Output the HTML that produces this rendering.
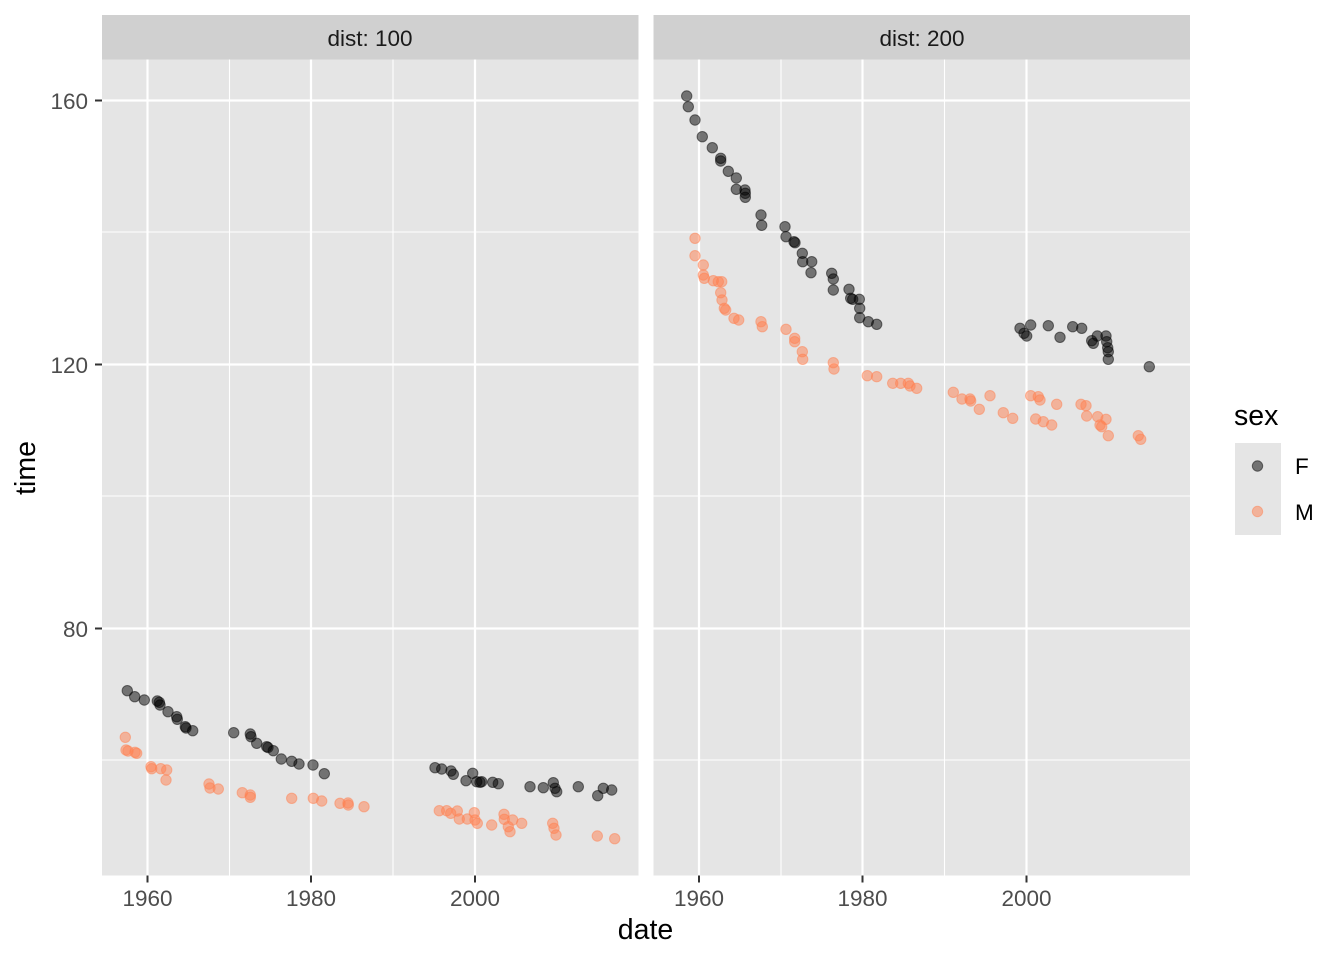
<!DOCTYPE html>
<html><head><meta charset="utf-8"><style>
html,body{margin:0;padding:0;background:#fff;}
svg{display:block;font-family:"Liberation Sans",Arial,sans-serif;}
</style></head><body>
<svg width="1344" height="960" viewBox="0 0 1344 960" xmlns="http://www.w3.org/2000/svg">
<rect width="1344" height="960" fill="#fff"/>
<!-- Left panel -->
<rect x="102" y="59.5" width="536.5" height="816" fill="#E5E5E5"/>
<g stroke="#fff" stroke-width="1.1">
<line x1="102" x2="638.5" y1="232" y2="232"/>
<line x1="102" x2="638.5" y1="496" y2="496"/>
<line x1="102" x2="638.5" y1="760" y2="760"/>
<line x1="229.5" x2="229.5" y1="59.5" y2="875.5"/>
<line x1="393" x2="393" y1="59.5" y2="875.5"/>
</g>
<g stroke="#fff" stroke-width="2.2">
<line x1="102" x2="638.5" y1="100.5" y2="100.5"/>
<line x1="102" x2="638.5" y1="364.5" y2="364.5"/>
<line x1="102" x2="638.5" y1="628.5" y2="628.5"/>
<line x1="147.5" x2="147.5" y1="59.5" y2="875.5"/>
<line x1="311" x2="311" y1="59.5" y2="875.5"/>
<line x1="475" x2="475" y1="59.5" y2="875.5"/>
</g>
<!-- Right panel -->
<rect x="653.5" y="59.5" width="536.5" height="816" fill="#E5E5E5"/>
<g stroke="#fff" stroke-width="1.1">
<line x1="653.5" x2="1190" y1="232" y2="232"/>
<line x1="653.5" x2="1190" y1="496" y2="496"/>
<line x1="653.5" x2="1190" y1="760" y2="760"/>
<line x1="781" x2="781" y1="59.5" y2="875.5"/>
<line x1="944.5" x2="944.5" y1="59.5" y2="875.5"/>
</g>
<g stroke="#fff" stroke-width="2.2">
<line x1="653.5" x2="1190" y1="100.5" y2="100.5"/>
<line x1="653.5" x2="1190" y1="364.5" y2="364.5"/>
<line x1="653.5" x2="1190" y1="628.5" y2="628.5"/>
<line x1="699" x2="699" y1="59.5" y2="875.5"/>
<line x1="862.5" x2="862.5" y1="59.5" y2="875.5"/>
<line x1="1026.5" x2="1026.5" y1="59.5" y2="875.5"/>
</g>
<!-- Strips -->
<rect x="102" y="15" width="536.5" height="44.5" fill="#D0D0D0"/>
<rect x="653.5" y="15" width="536.5" height="44.5" fill="#D0D0D0"/>
<text x="370" y="46" font-size="22.5" fill="#1A1A1A" text-anchor="middle">dist: 100</text>
<text x="922" y="46" font-size="22.5" fill="#1A1A1A" text-anchor="middle">dist: 200</text>

<!-- M points -->
<g fill="rgba(255,127,80,0.5)" stroke="rgba(255,127,80,0.5)" stroke-width="1">
<circle cx="125.3" cy="737.3" r="5.2"/><circle cx="126" cy="750" r="5.2"/><circle cx="128" cy="751" r="5.2"/><circle cx="135" cy="752.3" r="5.2"/><circle cx="136.7" cy="753.3" r="5.2"/>
<circle cx="151" cy="766.7" r="5.2"/><circle cx="151.7" cy="768.7" r="5.2"/><circle cx="160.7" cy="768.7" r="5.2"/><circle cx="166.7" cy="770" r="5.2"/><circle cx="166" cy="780" r="5.2"/>
<circle cx="209" cy="784" r="5.2"/><circle cx="210" cy="788" r="5.2"/><circle cx="218.3" cy="789" r="5.2"/><circle cx="242.3" cy="792.7" r="5.2"/><circle cx="250.3" cy="795" r="5.2"/><circle cx="250.3" cy="797.3" r="5.2"/>
<circle cx="291.7" cy="798.3" r="5.2"/><circle cx="313.3" cy="798.3" r="5.2"/><circle cx="321.7" cy="801" r="5.2"/><circle cx="340" cy="803.3" r="5.2"/><circle cx="348" cy="803" r="5.2"/><circle cx="348.3" cy="805" r="5.2"/><circle cx="364" cy="806.7" r="5.2"/>
<circle cx="439.3" cy="810.7" r="5.2"/><circle cx="446.7" cy="810.7" r="5.2"/><circle cx="450.7" cy="813.3" r="5.2"/><circle cx="457.3" cy="811" r="5.2"/><circle cx="459.3" cy="819" r="5.2"/><circle cx="467.3" cy="819" r="5.2"/><circle cx="474.3" cy="812.7" r="5.2"/><circle cx="475" cy="820" r="5.2"/><circle cx="477.3" cy="823.3" r="5.2"/><circle cx="491.7" cy="825" r="5.2"/>
<circle cx="504" cy="814.3" r="5.2"/><circle cx="504.3" cy="819.3" r="5.2"/><circle cx="512.7" cy="820" r="5.2"/><circle cx="508.3" cy="826.7" r="5.2"/><circle cx="510" cy="831.7" r="5.2"/><circle cx="521.7" cy="823.3" r="5.2"/>
<circle cx="552.7" cy="823.3" r="5.2"/><circle cx="554" cy="828.3" r="5.2"/><circle cx="556" cy="835" r="5.2"/><circle cx="597.3" cy="836" r="5.2"/><circle cx="614.7" cy="838.7" r="5.2"/>
<!-- right -->
<circle cx="695" cy="238.3" r="5.2"/><circle cx="695" cy="255.7" r="5.2"/><circle cx="703.3" cy="265" r="5.2"/><circle cx="703.3" cy="275" r="5.2"/><circle cx="704.3" cy="278.3" r="5.2"/><circle cx="713.3" cy="280.7" r="5.2"/><circle cx="718.3" cy="281.7" r="5.2"/><circle cx="721.7" cy="281.7" r="5.2"/><circle cx="720.7" cy="292.7" r="5.2"/><circle cx="722" cy="300" r="5.2"/><circle cx="724.3" cy="308.3" r="5.2"/><circle cx="725.7" cy="310" r="5.2"/>
<circle cx="734" cy="318.3" r="5.2"/><circle cx="738.7" cy="320" r="5.2"/><circle cx="761" cy="321.7" r="5.2"/><circle cx="762.3" cy="326.7" r="5.2"/><circle cx="786" cy="329.3" r="5.2"/><circle cx="794.7" cy="338.3" r="5.2"/><circle cx="794.7" cy="341.7" r="5.2"/><circle cx="802.3" cy="351.7" r="5.2"/><circle cx="802.7" cy="359.3" r="5.2"/>
<circle cx="833.3" cy="362.7" r="5.2"/><circle cx="834" cy="369" r="5.2"/><circle cx="867.3" cy="375.7" r="5.2"/><circle cx="876.7" cy="376.7" r="5.2"/><circle cx="892.7" cy="383.3" r="5.2"/><circle cx="900.7" cy="383.3" r="5.2"/><circle cx="908.3" cy="383.3" r="5.2"/><circle cx="910" cy="386" r="5.2"/><circle cx="916.7" cy="388.3" r="5.2"/>
<circle cx="953.3" cy="392.3" r="5.2"/><circle cx="962" cy="399" r="5.2"/><circle cx="970" cy="399" r="5.2"/><circle cx="970.7" cy="401" r="5.2"/><circle cx="979.3" cy="409.3" r="5.2"/><circle cx="990" cy="395.7" r="5.2"/><circle cx="1003.3" cy="412.7" r="5.2"/><circle cx="1012.7" cy="418.3" r="5.2"/>
<circle cx="1030.7" cy="395.7" r="5.2"/><circle cx="1038.3" cy="396.7" r="5.2"/><circle cx="1040" cy="400" r="5.2"/><circle cx="1035.7" cy="419" r="5.2"/><circle cx="1043.3" cy="421.7" r="5.2"/><circle cx="1051.7" cy="425" r="5.2"/><circle cx="1056.7" cy="404.3" r="5.2"/>
<circle cx="1081" cy="404.3" r="5.2"/><circle cx="1086" cy="405.7" r="5.2"/><circle cx="1086.7" cy="416" r="5.2"/><circle cx="1097.7" cy="416.7" r="5.2"/><circle cx="1106" cy="419.3" r="5.2"/><circle cx="1100" cy="425" r="5.2"/><circle cx="1101.7" cy="426.7" r="5.2"/><circle cx="1108.3" cy="435.7" r="5.2"/><circle cx="1138.3" cy="435.7" r="5.2"/><circle cx="1140.7" cy="439.3" r="5.2"/>
</g>
<!-- F points -->
<g fill="rgba(0,0,0,0.5)" stroke="rgba(0,0,0,0.5)" stroke-width="1">
<circle cx="127.3" cy="690.7" r="5.2"/><circle cx="134.7" cy="696.7" r="5.2"/><circle cx="144.3" cy="700" r="5.2"/><circle cx="157.3" cy="701" r="5.2"/><circle cx="159.3" cy="702.3" r="5.2"/><circle cx="160" cy="705" r="5.2"/><circle cx="168" cy="711.7" r="5.2"/><circle cx="176.7" cy="716.7" r="5.2"/><circle cx="177.3" cy="719.3" r="5.2"/><circle cx="185.3" cy="726.7" r="5.2"/><circle cx="186" cy="728" r="5.2"/><circle cx="192.7" cy="730.7" r="5.2"/>
<circle cx="233.7" cy="732.7" r="5.2"/><circle cx="250.3" cy="734" r="5.2"/><circle cx="251" cy="736.7" r="5.2"/><circle cx="256.7" cy="743.3" r="5.2"/><circle cx="266.7" cy="746.7" r="5.2"/><circle cx="268" cy="747.5" r="5.2"/><circle cx="273.3" cy="750.7" r="5.2"/><circle cx="281.3" cy="759" r="5.2"/><circle cx="291.7" cy="761.3" r="5.2"/><circle cx="299" cy="764" r="5.2"/><circle cx="313" cy="765" r="5.2"/><circle cx="324.3" cy="773.7" r="5.2"/>
<circle cx="435" cy="767.7" r="5.2"/><circle cx="441.7" cy="769" r="5.2"/><circle cx="451" cy="771" r="5.2"/><circle cx="453.3" cy="774.3" r="5.2"/><circle cx="472.7" cy="773.3" r="5.2"/><circle cx="466" cy="780.7" r="5.2"/><circle cx="476.7" cy="781.7" r="5.2"/><circle cx="480" cy="782.3" r="5.2"/><circle cx="481.7" cy="781.7" r="5.2"/><circle cx="492.7" cy="782.3" r="5.2"/><circle cx="498.3" cy="783.7" r="5.2"/>
<circle cx="530" cy="786.7" r="5.2"/><circle cx="543.3" cy="787.7" r="5.2"/><circle cx="553.3" cy="782.7" r="5.2"/><circle cx="555" cy="788.3" r="5.2"/><circle cx="556.7" cy="791.7" r="5.2"/><circle cx="578.3" cy="786.7" r="5.2"/><circle cx="597.7" cy="795.7" r="5.2"/><circle cx="603.3" cy="788.3" r="5.2"/><circle cx="611.7" cy="790" r="5.2"/>
<!-- right -->
<circle cx="686.7" cy="96" r="5.2"/><circle cx="688.3" cy="106.7" r="5.2"/><circle cx="695" cy="120" r="5.2"/><circle cx="702.3" cy="136.7" r="5.2"/><circle cx="712.3" cy="147.7" r="5.2"/><circle cx="720.7" cy="158.3" r="5.2"/><circle cx="720.7" cy="161" r="5.2"/><circle cx="728.3" cy="171.3" r="5.2"/><circle cx="736.3" cy="178" r="5.2"/><circle cx="736.3" cy="189.3" r="5.2"/><circle cx="745" cy="190" r="5.2"/><circle cx="745.3" cy="193.3" r="5.2"/><circle cx="745.3" cy="197.3" r="5.2"/>
<circle cx="761" cy="215" r="5.2"/><circle cx="761.7" cy="225.3" r="5.2"/><circle cx="785" cy="226.7" r="5.2"/><circle cx="786" cy="236.7" r="5.2"/><circle cx="794" cy="241.7" r="5.2"/><circle cx="795" cy="242.7" r="5.2"/><circle cx="802.3" cy="253.3" r="5.2"/><circle cx="802.7" cy="261.7" r="5.2"/><circle cx="811.7" cy="261.7" r="5.2"/><circle cx="811" cy="272.7" r="5.2"/>
<circle cx="831.7" cy="273.3" r="5.2"/><circle cx="833.3" cy="279" r="5.2"/><circle cx="833.3" cy="290" r="5.2"/><circle cx="849" cy="289.3" r="5.2"/><circle cx="850.7" cy="298.3" r="5.2"/><circle cx="852.7" cy="299.3" r="5.2"/><circle cx="859.3" cy="299.3" r="5.2"/><circle cx="859.7" cy="308.3" r="5.2"/><circle cx="859.7" cy="317.7" r="5.2"/><circle cx="868.3" cy="321.7" r="5.2"/><circle cx="876.7" cy="324.3" r="5.2"/>
<circle cx="1020" cy="328.3" r="5.2"/><circle cx="1030.7" cy="325" r="5.2"/><circle cx="1024" cy="333.3" r="5.2"/><circle cx="1026.7" cy="336" r="5.2"/><circle cx="1048.3" cy="325.7" r="5.2"/><circle cx="1060" cy="337.3" r="5.2"/><circle cx="1072.7" cy="326.7" r="5.2"/><circle cx="1081.7" cy="328.3" r="5.2"/>
<circle cx="1091.7" cy="340.7" r="5.2"/><circle cx="1093.3" cy="343.3" r="5.2"/><circle cx="1097.3" cy="336" r="5.2"/><circle cx="1106" cy="336" r="5.2"/><circle cx="1106.7" cy="341.7" r="5.2"/><circle cx="1107.7" cy="347.7" r="5.2"/><circle cx="1108.3" cy="351.7" r="5.2"/><circle cx="1108.3" cy="359.3" r="5.2"/><circle cx="1149.3" cy="366.7" r="5.2"/>
</g>

<!-- Axis ticks -->
<g stroke="#333" stroke-width="2">
<line x1="95" x2="102" y1="100.5" y2="100.5"/>
<line x1="95" x2="102" y1="364.5" y2="364.5"/>
<line x1="95" x2="102" y1="628.5" y2="628.5"/>
<line x1="147.5" x2="147.5" y1="875.5" y2="882.5"/>
<line x1="311" x2="311" y1="875.5" y2="882.5"/>
<line x1="475" x2="475" y1="875.5" y2="882.5"/>
<line x1="699" x2="699" y1="875.5" y2="882.5"/>
<line x1="862.5" x2="862.5" y1="875.5" y2="882.5"/>
<line x1="1026.5" x2="1026.5" y1="875.5" y2="882.5"/>
</g>
<g font-size="22.5" fill="#4D4D4D">
<text x="88" y="109" text-anchor="end">160</text>
<text x="88" y="373" text-anchor="end">120</text>
<text x="88" y="637" text-anchor="end">80</text>
<g text-anchor="middle">
<text x="147.5" y="906">1960</text>
<text x="311" y="906">1980</text>
<text x="475" y="906">2000</text>
<text x="699" y="906">1960</text>
<text x="862.5" y="906">1980</text>
<text x="1026.5" y="906">2000</text>
</g>
</g>
<text x="645.5" y="939" font-size="28.5" fill="#000" text-anchor="middle">date</text>
<text transform="translate(35,468) rotate(-90)" font-size="28.5" fill="#000" text-anchor="middle">time</text>

<!-- Legend -->
<text x="1234" y="425" font-size="28.5" fill="#000">sex</text>
<rect x="1235" y="443" width="46" height="46" fill="#E5E5E5"/>
<rect x="1235" y="489" width="46" height="46" fill="#E5E5E5"/>
<circle cx="1257.5" cy="466" r="5.2" fill="rgba(0,0,0,0.5)" stroke="rgba(0,0,0,0.5)" stroke-width="1"/>
<circle cx="1257.5" cy="511.5" r="5.2" fill="rgba(255,127,80,0.5)" stroke="rgba(255,127,80,0.5)" stroke-width="1"/>
<text x="1295" y="474" font-size="22.5" fill="#000">F</text>
<text x="1295" y="520" font-size="22.5" fill="#000">M</text>
</svg>
</body></html>
